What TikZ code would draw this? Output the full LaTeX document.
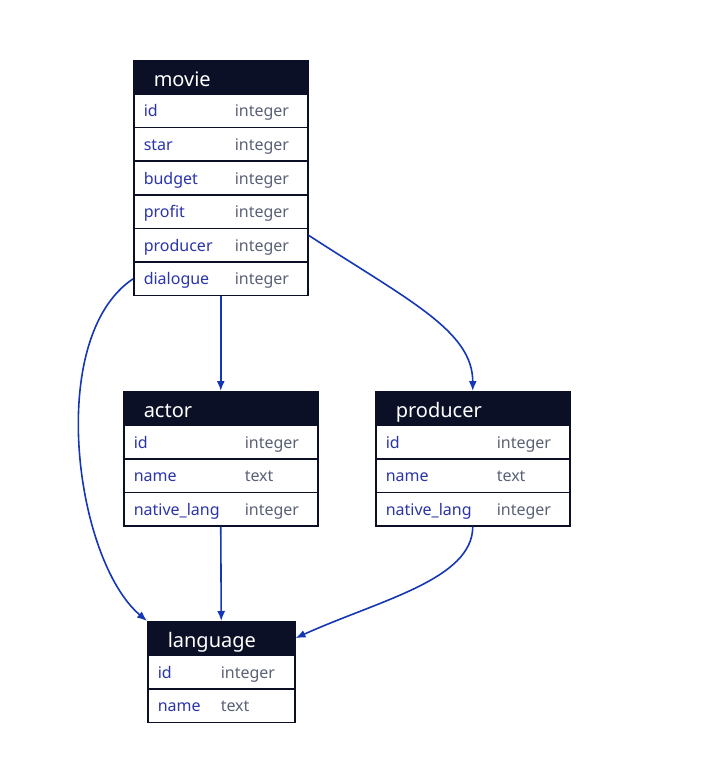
\documentclass[tikz,border=0pt]{standalone}
\usepackage{fontspec}
\setmainfont{Noto Sans}
\usetikzlibrary{shapes.multipart,calc,arrows.meta}

\definecolor{hdr}{HTML}{0B1026}
\definecolor{fieldcol}{HTML}{2B34A8}
\definecolor{typecol}{HTML}{5B6275}
\definecolor{linkcol}{HTML}{1537B5}

\newcommand{\tblhead}[1]{\rule[-7pt]{0pt}{32pt}\hspace{10pt}{\fontsize{20}{20}\selectfont\color{white}#1}}
\newcommand{\tblrow}[3]{\rule[-10pt]{0pt}{32pt}\makebox[#1][l]{\color{fieldcol}#2}{\color{typecol}#3}}

\begin{document}
\begin{tikzpicture}[x=1pt,y=-1pt,
  table/.style={draw=hdr,line width=1.5pt,rectangle split,rectangle split parts=#1,
    rectangle split part fill={hdr,white},inner xsep=10pt,inner ysep=0pt,
    anchor=north west,align=left,font=\fontsize{16}{16}\selectfont},
  link/.style={draw=linkcol,line width=1.6pt,-{Latex[length=10pt,width=8pt]}}]
\useasboundingbox (0,0) rectangle (711,778);
\node [table=7,text width=154pt] (movie) at (133,60) {\tblhead{movie}
  \nodepart{two}\tblrow{91pt}{id}{integer}
  \nodepart{three}\tblrow{91pt}{star}{integer}
  \nodepart{four}\tblrow{91pt}{budget}{integer}
  \nodepart{five}\tblrow{91pt}{profit}{integer}
  \nodepart{six}\tblrow{91pt}{producer}{integer}
  \nodepart{seven}\tblrow{91pt}{dialogue}{integer}};
\node [table=4,text width=174pt] (actor) at (123,391) {\tblhead{actor}
  \nodepart{two}\tblrow{111pt}{id}{integer}
  \nodepart{three}\tblrow{111pt}{name}{text}
  \nodepart{four}\tblrow{111pt}{native\_lang}{integer}};
\node [table=4,text width=174pt] (producer) at (375,391) {\tblhead{producer}
  \nodepart{two}\tblrow{111pt}{id}{integer}
  \nodepart{three}\tblrow{111pt}{name}{text}
  \nodepart{four}\tblrow{111pt}{native\_lang}{integer}};
\node [table=3,text width=127pt] (language) at (147,621) {\tblhead{language}
  \nodepart{two}\tblrow{63pt}{id}{integer}
  \nodepart{three}\tblrow{63pt}{name}{text}};
\draw [link] (movie.south) -- (actor.north);
\draw [link] ($(movie.five split east)+(0,7)$) .. controls +(100,65) and +(0,-60) .. (producer.north);
\draw [link] ($(movie.six split west)!0.5!(movie.south west)$) .. controls +(-88,59) and +(-72,-61) .. (language.north west);
\draw [link] (actor.south) -- (language.north);
\draw [link] (producer.south) .. controls +(0,53) and +(84,-38) .. ($(language.north east)!0.5!(language.one split east)$);
\end{tikzpicture}
\end{document}
